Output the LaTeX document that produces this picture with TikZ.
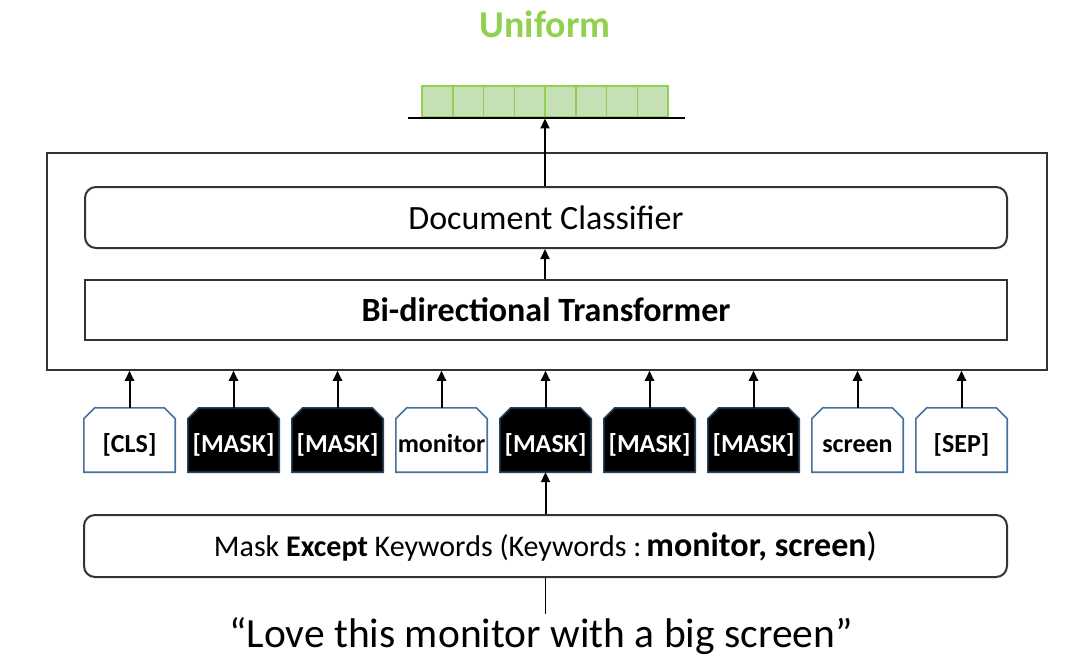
\documentclass[tikz,border=0pt]{standalone}
\usepackage{fontspec}
\setmainfont{Carlito}
\usetikzlibrary{arrows.meta,calc,backgrounds}
\definecolor{ugreen}{HTML}{92D050}
\definecolor{cellfill}{HTML}{C5E0B4}
\definecolor{tokblue}{HTML}{41719C}
\definecolor{darkline}{HTML}{333333}
\newcommand{\fs}[1]{\fontsize{#1}{#1}\selectfont}
\tikzset{
  arr/.style={line width=2pt,-{Triangle[length=10pt,width=9pt]}},
  roundbox/.style={draw=darkline,line width=2pt,rounded corners=11pt,minimum width=922pt,inner sep=0pt},
  tokbox/.style={minimum width=91pt,minimum height=64pt,inner sep=0pt,text height=25pt,text depth=0pt,font=\fs{26}\bfseries},
  tokout/.style={draw=tokblue,line width=1.6pt,fill=white},
  maskout/.style={draw=tokblue!60!black,line width=1.6pt,fill=black},
  cell/.style={draw=ugreen,line width=1.5pt,fill=cellfill,minimum width=30.75pt,minimum height=31pt,inner sep=0pt}
}
\newcommand{\tokshape}[2]{%
  \draw[#2] (#1.south west) -- ($(#1.north west)+(0,11)$) -- ($(#1.north west)+(11,0)$) -- ($(#1.north east)+(-11,0)$) -- ($(#1.north east)+(0,11)$) -- (#1.south east) -- cycle;}
\begin{document}
\begin{tikzpicture}[x=1pt,y=-1pt]
\useasboundingbox (0,0) rectangle (1076,666);
% title
\node[text=ugreen,font=\fs{38}\bfseries] (title) at (545,24) {Uniform};
% output cells
\foreach \i in {0,...,7}{
  \node[cell] (c\i) at ({422+30.75*(\i+0.5)},101.5) {};
}
\coordinate (base) at (545,118.5);
\draw[line width=2pt] ($(base)+(-137,0)$) -- ($(base)+(140,0)$);
% outer
\node[draw=darkline,line width=1.5pt,minimum width=1000pt,minimum height=217pt,inner sep=0pt] (outer) at (547,261.5) {};
\node[roundbox,minimum height=61pt,font=\fs{34}] (dc) at (546,217.5) {Document Classifier};
\node[draw=darkline,line width=2pt,minimum width=922pt,minimum height=60pt,inner sep=0pt,font=\fs{34}\bfseries] (bt) at (546,310) {Bi-directional Transformer};
\draw[arr] (dc.north -| base) -- (base);
\draw[arr] (bt.north -| base) -- (dc.south -| base);
% tokens
\node[tokbox] (t1) at (129.5,440) {[CLS]};
\node[tokbox,text=white] (t2) at (233.5,440) {[MASK]};
\node[tokbox,text=white] (t3) at (337.5,440) {[MASK]};
\node[tokbox] (t4) at (441.5,440) {monitor};
\node[tokbox,text=white] (t5) at (545.5,440) {[MASK]};
\node[tokbox,text=white] (t6) at (649.5,440) {[MASK]};
\node[tokbox,text=white] (t7) at (753.5,440) {[MASK]};
\node[tokbox] (t8) at (857.5,440) {screen};
\node[tokbox] (t9) at (961.5,440) {[SEP]};
\begin{pgfonlayer}{background}
\tokshape{t1}{tokout}
\tokshape{t2}{maskout}
\tokshape{t3}{maskout}
\tokshape{t4}{tokout}
\tokshape{t5}{maskout}
\tokshape{t6}{maskout}
\tokshape{t7}{maskout}
\tokshape{t8}{tokout}
\tokshape{t9}{tokout}
\end{pgfonlayer}
\foreach \i in {1,...,9}{
  \draw[arr] (t\i.north) -- (t\i.north |- outer.south);
}
% mask box
\node[roundbox,minimum width=923pt,minimum height=62pt,font=\fs{30}] (mk) at (545.5,546)
  {Mask \textbf{Except} Keywords (Keywords :\,{\fs{34}\textbf{monitor, screen})}};
\draw[arr] (mk.north -| t5) -- (t5.south);
% quote
\node[font=\fs{41.5}] (q) at (541,636) {“Love this monitor with a big screen”};
\draw[line width=1.5pt] (q.north -| t5) -- (mk.south -| t5);
\end{tikzpicture}
\end{document}
